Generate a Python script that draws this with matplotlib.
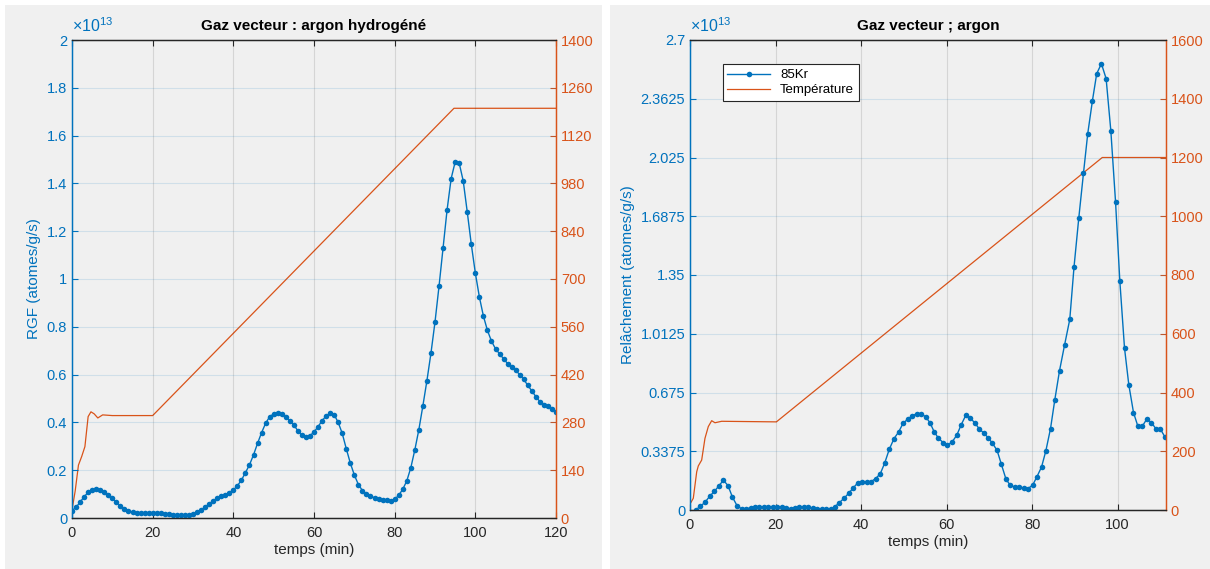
import matplotlib
matplotlib.use("Agg")
import matplotlib.pyplot as plt
from matplotlib.patches import Rectangle

plt.rcParams['font.family'] = ['Liberation Sans', 'DejaVu Sans']
plt.rcParams['mathtext.fontset'] = 'custom'
plt.rcParams['mathtext.rm'] = 'Liberation Sans'
plt.rcParams['mathtext.it'] = 'Liberation Sans'

BLEU = '#0072BD'
ORANGE = '#D95319'
GRIS = '#262626'

# ---- panneau gauche : argon hydrogene (RGF en 1e13 atomes/g/s) ----
temps_g = [0, 1, 2, 3, 4, 5, 6, 7, 8, 9, 10, 11, 12, 13, 14, 15, 16, 17, 18, 19,
           20, 21, 22, 23, 24, 25, 26, 27, 28, 29, 30, 31, 32, 33, 34, 35, 36, 37, 38, 39,
           40, 41, 42, 43, 44, 45, 46, 47, 48, 49, 50, 51, 52, 53, 54, 55, 56, 57, 58, 59,
           60, 61, 62, 63, 64, 65, 66, 67, 68, 69, 70, 71, 72, 73, 74, 75, 76, 77, 78, 79,
           80, 81, 82, 83, 84, 85, 86, 87, 88, 89, 90, 91, 92, 93, 94, 95, 96, 97, 98, 99,
           100, 101, 102, 103, 104, 105, 106, 107, 108, 109, 110, 111, 112, 113, 114, 115,
           116, 117, 118, 119, 120]
rgf_g = [0.031, 0.045, 0.066, 0.089, 0.107, 0.117, 0.120, 0.117, 0.109, 0.096,
         0.082, 0.066, 0.050, 0.038, 0.029, 0.024, 0.021, 0.020, 0.020, 0.020,
         0.021, 0.021, 0.020, 0.018, 0.015, 0.014, 0.013, 0.011, 0.011, 0.013,
         0.017, 0.024, 0.033, 0.045, 0.059, 0.071, 0.082, 0.091, 0.098, 0.106,
         0.117, 0.135, 0.158, 0.190, 0.222, 0.264, 0.312, 0.357, 0.396, 0.424,
         0.435, 0.438, 0.434, 0.424, 0.407, 0.389, 0.365, 0.346, 0.337, 0.344,
         0.360, 0.382, 0.407, 0.427, 0.438, 0.432, 0.400, 0.354, 0.290, 0.230,
         0.180, 0.140, 0.115, 0.100, 0.090, 0.085, 0.080, 0.077, 0.075, 0.072,
         0.078, 0.095, 0.120, 0.155, 0.210, 0.285, 0.370, 0.470, 0.575, 0.690,
         0.820, 0.970, 1.130, 1.290, 1.420, 1.490, 1.485, 1.410, 1.280, 1.145,
         1.025, 0.925, 0.845, 0.785, 0.740, 0.708, 0.687, 0.666, 0.646, 0.632,
         0.618, 0.600, 0.580, 0.555, 0.532, 0.508, 0.487, 0.474, 0.467, 0.457,
         0.445]
temps_temp_g = [0, 0.8, 1.6, 2.4, 3.2, 4.0, 4.7, 5.5, 6.4, 7.6, 10, 20, 94.7, 120]
temperature_g = [23, 80, 155, 180, 209, 297, 311, 305, 293, 302, 300, 300, 1200, 1200]

# ---- panneau droit : argon (relachement en 1e13 atomes/g/s) ----
temps_d = [1.3, 2.4, 3.5, 4.6, 5.7, 6.8, 7.8, 8.9, 9.9, 11.0, 12.1, 13.1, 14.2, 15.2,
           16.2, 17.3, 18.3, 19.3, 20.4, 21.4, 22.5, 23.5, 24.5, 25.6, 26.6, 27.6, 28.7,
           29.7, 30.8, 31.8, 32.9, 33.9, 34.9, 36.0, 37.1, 38.2, 39.2, 40.2, 41.3, 42.3,
           43.4, 44.5, 45.5, 46.6, 47.7, 48.8, 49.8, 50.9, 52.0, 53.0, 54.0, 55.1, 56.1,
           57.1, 58.1, 59.2, 60.2, 61.3, 62.4, 63.4, 64.5, 65.5, 66.6, 67.6, 68.7, 69.7,
           70.7, 71.8, 72.8, 73.9, 74.9, 75.9, 77.0, 78.0, 79.0, 80.1, 81.1, 82.2, 83.2,
           84.3, 85.3, 86.4, 87.6, 88.8, 89.8, 90.9, 92.0, 93.0, 94.1, 95.1, 96.2, 97.3,
           98.4, 99.5, 100.5, 101.6, 102.6, 103.7, 104.7, 105.8, 106.8, 107.9, 108.9,
           110.0, 111.0]
kr85_d = [0.000, 0.021, 0.044, 0.079, 0.107, 0.140, 0.171, 0.140, 0.075, 0.025,
          0.006, 0.006, 0.013, 0.019, 0.019, 0.019, 0.019, 0.019, 0.019, 0.017,
          0.010, 0.008, 0.013, 0.017, 0.017, 0.015, 0.012, 0.008, 0.006, 0.008,
          0.006, 0.019, 0.042, 0.067, 0.096, 0.128, 0.155, 0.163, 0.161, 0.163,
          0.180, 0.209, 0.268, 0.349, 0.410, 0.449, 0.497, 0.522, 0.541, 0.554,
          0.554, 0.535, 0.502, 0.449, 0.412, 0.387, 0.372, 0.391, 0.431, 0.489,
          0.545, 0.531, 0.499, 0.468, 0.441, 0.416, 0.384, 0.343, 0.263, 0.176,
          0.142, 0.132, 0.132, 0.125, 0.123, 0.142, 0.190, 0.247, 0.339, 0.468,
          0.633, 0.800, 0.950, 1.095, 1.398, 1.676, 1.934, 2.162, 2.352, 2.507,
          2.564, 2.478, 2.179, 1.771, 1.317, 0.930, 0.720, 0.560, 0.483, 0.483,
          0.522, 0.502, 0.468, 0.464, 0.422]
temps_temp_d = [0, 0.77, 1.57, 1.94, 2.73, 3.5, 4.28, 5.07, 5.84, 7.4, 20.2, 96.4, 111.3]
temperature_d = [20, 40, 130, 150, 170, 244, 284, 304, 297, 302, 300, 1200, 1200]

ticks_g = [0, 0.2, 0.4, 0.6, 0.8, 1.0, 1.2, 1.4, 1.6, 1.8, 2.0]
labels_g = ['0', '0.2', '0.4', '0.6', '0.8', '1', '1.2', '1.4', '1.6', '1.8', '2']
ticks_d = [0, 0.3375, 0.675, 1.0125, 1.35, 1.6875, 2.025, 2.3625, 2.7]
labels_d = ['0', '0.3375', '0.675', '1.0125', '1.35', '1.6875', '2.025', '2.3625', '2.7']

W, H = 1210, 569
fig = plt.figure(figsize=(W / 100, H / 100), dpi=100, facecolor='white')
# fonds gris des deux fenetres
fig.patches.append(Rectangle((5 / W, 0), 597 / W, 564 / H, transform=fig.transFigure,
                             facecolor='#F0F0F0', edgecolor='none', zorder=-10))
fig.patches.append(Rectangle((610 / W, 0), 600 / W, 564 / H, transform=fig.transFigure,
                             facecolor='#F0F0F0', edgecolor='none', zorder=-10))


def panneau(rect, t, y, tt, temp, xmax, ymax, yticks, ylabels, t2max, t2ticks,
            titre, ylab, legende=False):
    ax = fig.add_axes(rect)
    ax2 = ax.twinx()
    ax.set_zorder(ax2.get_zorder() + 1)
    ax.patch.set_visible(False)
    ax2.set_facecolor('white')

    ligne_t, = ax2.plot(tt, temp, color=ORANGE, lw=0.9)
    ligne_k, = ax.plot(t, y, color=BLEU, lw=1.0, marker='o', ms=4.0,
                       markeredgewidth=0)

    ax.set_xlim(0, xmax)
    ax.set_ylim(0, ymax)
    ax2.set_ylim(0, t2max)
    ax.set_xticks([0, 20, 40, 60, 80, 100, 120] if xmax >= 120 else [0, 20, 40, 60, 80, 100])
    ax.set_yticks(yticks)
    ax.set_yticklabels(ylabels)
    ax2.set_yticks(t2ticks)

    # grilles : verticale grise, horizontale bleutee
    ax.xaxis.grid(True, color=GRIS, alpha=0.13, lw=0.8)
    ax.yaxis.grid(True, color=BLEU, alpha=0.13, lw=0.8)

    ax.tick_params(axis='x', direction='in', length=4, colors=GRIS, labelsize=10.5,
                   top=True, pad=6)
    ax.tick_params(axis='y', direction='in', length=4, colors=BLEU, labelsize=10.5)
    ax2.tick_params(axis='y', direction='in', length=4, colors=ORANGE, labelsize=10.5)
    for a in (ax, ax2):
        a.spines['top'].set_color(GRIS)
        a.spines['bottom'].set_color(GRIS)
        a.spines['left'].set_color(BLEU)
        a.spines['right'].set_color(ORANGE)
        for s in a.spines.values():
            s.set_linewidth(0.9)

    ax.set_title(titre, fontsize=11, fontweight='bold', color='black', pad=7)
    ax.set_xlabel('temps (min)', fontsize=11, color=GRIS, labelpad=2)
    ax.set_ylabel(ylab, fontsize=11, color=BLEU, labelpad=4)
    ax.text(0, 1.01, r'$\times10^{13}$', transform=ax.transAxes, color=BLEU,
            fontsize=11.5, ha='left', va='bottom')

    if legende:
        leg = ax.legend([ligne_k, ligne_t], ['85Kr', 'Température'],
                        loc='upper left', bbox_to_anchor=(0.055, 0.962),
                        fontsize=9.5, frameon=True, fancybox=False,
                        edgecolor=GRIS, framealpha=1, borderpad=0.35,
                        handlelength=3.2, labelspacing=0.2)
        leg.get_frame().set_linewidth(0.8)
    return ax


panneau([72 / W, 1 - 518 / H, 484 / W, 478 / H], temps_g, rgf_g,
        temps_temp_g, temperature_g, 120, 2.0, ticks_g, labels_g,
        1400, list(range(0, 1401, 140)),
        'Gaz vecteur : argon hydrogéné', 'RGF (atomes/g/s)')

panneau([690 / W, 1 - 510 / H, 476 / W, 470 / H], temps_d, kr85_d,
        temps_temp_d, temperature_d, 111.3, 2.7, ticks_d, labels_d,
        1600, list(range(0, 1601, 200)),
        'Gaz vecteur ; argon', 'Relâchement (atomes/g/s)', legende=True)

fig.savefig('out.png', dpi=100, facecolor='white')
